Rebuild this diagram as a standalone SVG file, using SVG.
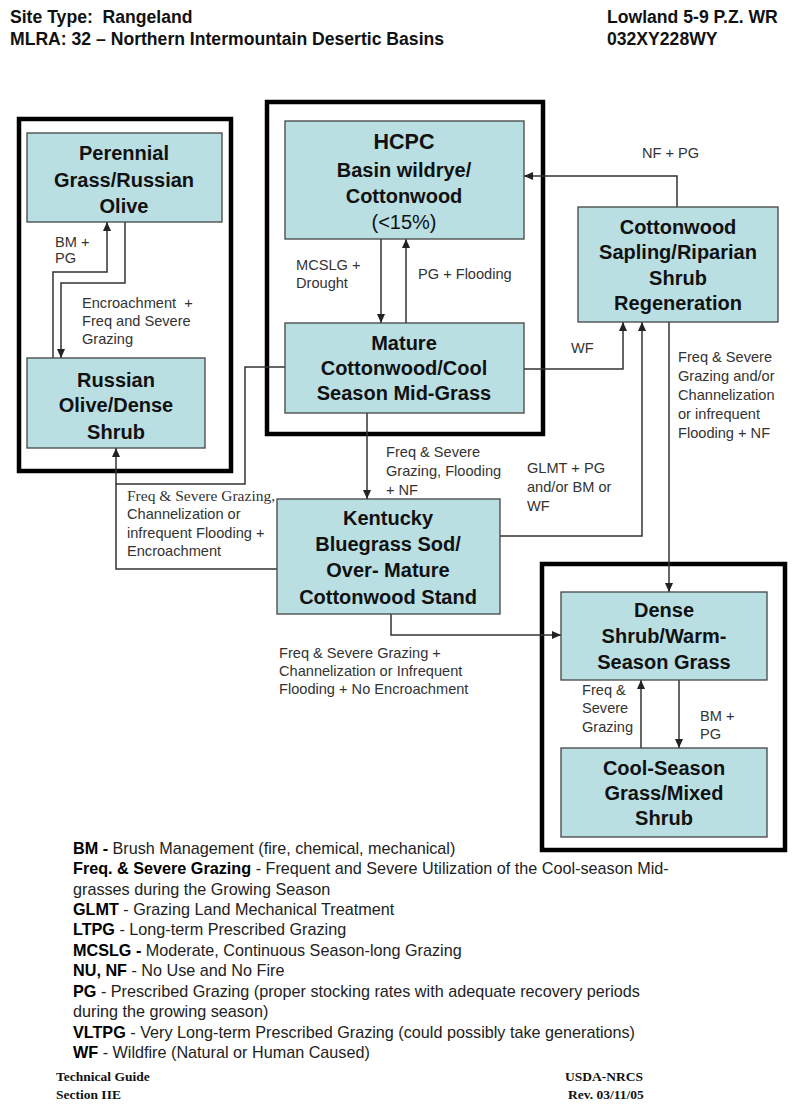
<svg xmlns="http://www.w3.org/2000/svg" width="800" height="1108" viewBox="0 0 800 1108">
<style>
.bg{fill:#ffffff}
.cont{fill:none;stroke:#000;stroke-width:4.5}
.node{fill:#b9dfe3;stroke:#444;stroke-width:1.3}
.nt{font-family:"Liberation Sans",Arial,sans-serif;font-size:20px;font-weight:bold;fill:#111;text-anchor:middle}
.ntr{font-weight:normal}
.lbl{font-family:"Liberation Sans",Arial,sans-serif;font-size:14.6px;fill:#333;white-space:pre}
.lbls{font-family:"Liberation Serif","Times New Roman",serif;font-size:15.5px;fill:#333}
.conn{fill:none;stroke:#333;stroke-width:1.5}
.hdr{font-family:"Liberation Sans",Arial,sans-serif;font-size:17.6px;font-weight:bold;fill:#111}
.leg{font-family:"Liberation Sans",Arial,sans-serif;font-size:16.2px;fill:#222}
.leg .b{font-weight:bold;fill:#000}
.ftr{font-family:"Liberation Serif","Times New Roman",serif;font-size:13.5px;font-weight:bold;fill:#111}
</style>
<defs>
<marker id="arr" markerWidth="9" markerHeight="8" refX="9" refY="4" orient="auto" markerUnits="userSpaceOnUse">
<path d="M0,0 L9,4 L0,8 z" fill="#222"/>
</marker>
</defs>
<rect class="bg" x="0" y="0" width="800" height="1108"/>

<g id="header">
<text class="hdr" x="10" y="23" style="white-space:pre">Site Type:  Rangeland</text>
<text class="hdr" x="10" y="45">MLRA: 32 – Northern Intermountain Desertic Basins</text>
<text class="hdr" x="607" y="23">Lowland 5-9 P.Z. WR</text>
<text class="hdr" x="607" y="45">032XY228WY</text>
</g>

<g id="containers">
<rect class="cont" x="19" y="119" width="212" height="352"/>
<rect class="cont" x="267" y="102" width="276" height="332"/>
<rect class="cont" x="542" y="564" width="243" height="286"/>
</g>

<g id="connectors">
<path class="conn" d="M125,222 V283 H61 V358" marker-end="url(#arr)"/>
<path class="conn" d="M53,358 V272 H107 V222" marker-end="url(#arr)"/>
<path class="conn" d="M381,239 V323" marker-end="url(#arr)"/>
<path class="conn" d="M406,323 V239" marker-end="url(#arr)"/>
<path class="conn" d="M677,207 V176 H524" marker-end="url(#arr)"/>
<path class="conn" d="M524,369 H623 V322" marker-end="url(#arr)"/>
<path class="conn" d="M500,536 H642 V322" marker-end="url(#arr)"/>
<path class="conn" d="M669,322 V592" marker-end="url(#arr)"/>
<path class="conn" d="M367,413 V499" marker-end="url(#arr)"/>
<path class="conn" d="M285,367 H245 V484 H116 V448" marker-end="url(#arr)"/>
<path class="conn" d="M277,569 H116 V484"/>
<path class="conn" d="M391,614 V635 H561" marker-end="url(#arr)"/>
<path class="conn" d="M641,748 V680" marker-end="url(#arr)"/>
<path class="conn" d="M679,680 V748" marker-end="url(#arr)"/>
</g>

<g id="edge-labels">
<text class="lbl" x="55" y="247">BM +</text>
<text class="lbl" x="55" y="263">PG</text>
<text class="lbl" x="82" y="308">Encroachment  +</text>
<text class="lbl" x="82" y="326">Freq and Severe</text>
<text class="lbl" x="82" y="344">Grazing</text>
<text class="lbl" x="296" y="270">MCSLG +</text>
<text class="lbl" x="296" y="288">Drought</text>
<text class="lbl" x="418" y="279">PG + Flooding</text>
<text class="lbl" x="642" y="158">NF + PG</text>
<text class="lbl" x="571" y="353">WF</text>
<text class="lbl" x="678" y="362">Freq &amp; Severe</text>
<text class="lbl" x="678" y="381">Grazing and/or</text>
<text class="lbl" x="678" y="400">Channelization</text>
<text class="lbl" x="678" y="419">or infrequent</text>
<text class="lbl" x="678" y="438">Flooding + NF</text>
<text class="lbl" x="527" y="473">GLMT + PG</text>
<text class="lbl" x="527" y="492">and/or BM or</text>
<text class="lbl" x="527" y="511">WF</text>
<text class="lbl" x="386" y="457">Freq &amp; Severe</text>
<text class="lbl" x="386" y="476">Grazing, Flooding</text>
<text class="lbl" x="386" y="495">+ NF</text>
<text class="lbls" x="127" y="501">Freq &amp; Severe Grazing,</text>
<text class="lbl" x="127" y="519">Channelization or</text>
<text class="lbl" x="127" y="538">infrequent Flooding +</text>
<text class="lbl" x="127" y="556">Encroachment</text>
<text class="lbl" x="279" y="658">Freq &amp; Severe Grazing +</text>
<text class="lbl" x="279" y="676">Channelization or Infrequent</text>
<text class="lbl" x="279" y="694">Flooding + No Encroachment</text>
<text class="lbl" x="582" y="695">Freq &amp;</text>
<text class="lbl" x="582" y="713">Severe</text>
<text class="lbl" x="582" y="732">Grazing</text>
<text class="lbl" x="700" y="721">BM +</text>
<text class="lbl" x="700" y="739">PG</text>
</g>

<g id="node-perennial">
<rect class="node" x="27" y="133" width="195" height="89"/>
<text class="nt" x="124" y="160">Perennial</text>
<text class="nt" x="124" y="187">Grass/Russian</text>
<text class="nt" x="124" y="213">Olive</text>
</g>

<g id="node-russian-olive">
<rect class="node" x="27" y="358" width="178" height="90"/>
<text class="nt" x="116" y="387">Russian</text>
<text class="nt" x="116" y="412">Olive/Dense</text>
<text class="nt" x="116" y="439">Shrub</text>
</g>

<g id="node-hcpc">
<rect class="node" x="285" y="121" width="239" height="118"/>
<text class="nt" x="404" y="149" style="font-size:21.5px">HCPC</text>
<text class="nt" x="404" y="177">Basin wildrye/</text>
<text class="nt" x="404" y="203">Cottonwood</text>
<text class="nt ntr" x="404" y="229">(&lt;15%)</text>
</g>

<g id="node-mature">
<rect class="node" x="285" y="323" width="239" height="90"/>
<text class="nt" x="404" y="350">Mature</text>
<text class="nt" x="404" y="375">Cottonwood/Cool</text>
<text class="nt" x="404" y="400">Season Mid-Grass</text>
</g>

<g id="node-cottonwood-sapling">
<rect class="node" x="578" y="207" width="200" height="115"/>
<text class="nt" x="678" y="234">Cottonwood</text>
<text class="nt" x="678" y="259">Sapling/Riparian</text>
<text class="nt" x="678" y="285">Shrub</text>
<text class="nt" x="678" y="310">Regeneration</text>
</g>

<g id="node-kentucky">
<rect class="node" x="277" y="499" width="223" height="115"/>
<text class="nt" x="388" y="525">Kentucky</text>
<text class="nt" x="388" y="551">Bluegrass Sod/</text>
<text class="nt" x="388" y="577">Over- Mature</text>
<text class="nt" x="388" y="604">Cottonwood Stand</text>
</g>

<g id="node-dense-shrub">
<rect class="node" x="561" y="592" width="206" height="88"/>
<text class="nt" x="664" y="617">Dense</text>
<text class="nt" x="664" y="643">Shrub/Warm-</text>
<text class="nt" x="664" y="669">Season Grass</text>
</g>

<g id="node-cool-season">
<rect class="node" x="561" y="748" width="206" height="89"/>
<text class="nt" x="664" y="775">Cool-Season</text>
<text class="nt" x="664" y="800">Grass/Mixed</text>
<text class="nt" x="664" y="825">Shrub</text>
</g>

<g id="legend">
<text class="leg" x="73" y="854"><tspan class="b">BM -</tspan> Brush Management (fire, chemical, mechanical)</text>
<text class="leg" x="73" y="874"><tspan class="b">Freq. &amp; Severe Grazing</tspan> - Frequent and Severe Utilization of the Cool-season Mid-</text>
<text class="leg" x="73" y="895">grasses during the Growing Season</text>
<text class="leg" x="73" y="915"><tspan class="b">GLMT</tspan> - Grazing Land Mechanical Treatment</text>
<text class="leg" x="73" y="935"><tspan class="b">LTPG</tspan> - Long-term Prescribed Grazing</text>
<text class="leg" x="73" y="956"><tspan class="b">MCSLG -</tspan> Moderate, Continuous Season-long Grazing</text>
<text class="leg" x="73" y="976"><tspan class="b">NU, NF</tspan> - No Use and No Fire</text>
<text class="leg" x="73" y="997"><tspan class="b">PG</tspan> - Prescribed Grazing (proper stocking rates with adequate recovery periods</text>
<text class="leg" x="73" y="1017">during the growing season)</text>
<text class="leg" x="73" y="1038"><tspan class="b">VLTPG</tspan> - Very Long-term Prescribed Grazing (could possibly take generations)</text>
<text class="leg" x="73" y="1058"><tspan class="b">WF</tspan> - Wildfire (Natural or Human Caused)</text>
</g>

<g id="footer">
<text class="ftr" x="56" y="1081">Technical Guide</text>
<text class="ftr" x="56" y="1099">Section IIE</text>
<text class="ftr" x="565" y="1081">USDA-NRCS</text>
<text class="ftr" x="568" y="1099">Rev. 03/11/05</text>
</g>
</svg>
